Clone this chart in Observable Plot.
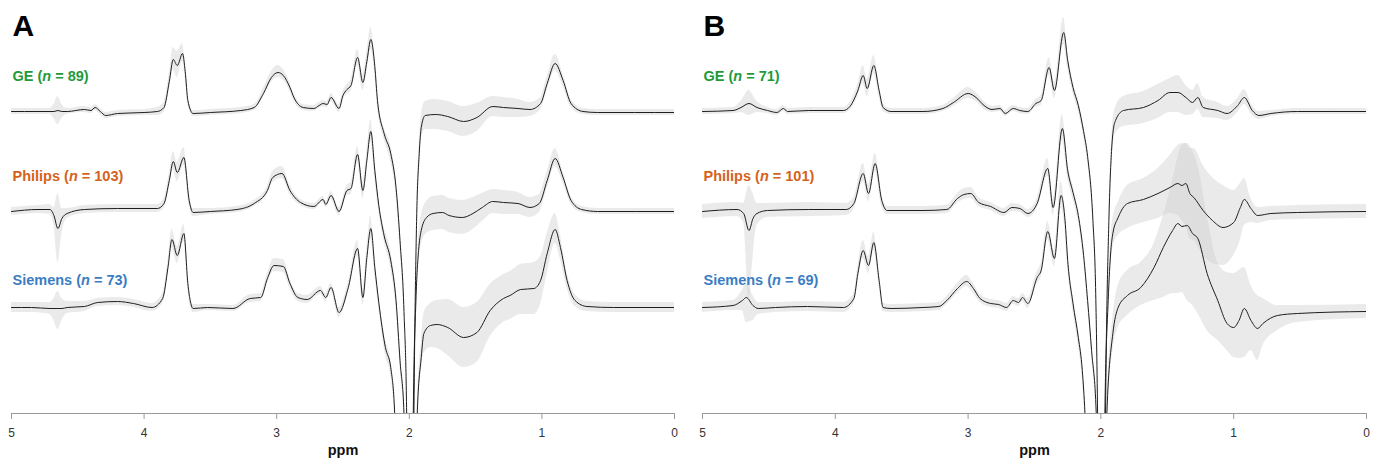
<!DOCTYPE html>
<html>
<head>
<meta charset="utf-8">
<script src="https://cdn.jsdelivr.net/npm/d3@7"></script>
<script src="https://cdn.jsdelivr.net/npm/@observablehq/plot@0.6"></script>
<style>
  html, body { margin: 0; padding: 0; background: #fff; }
  #wrap { display: flex; width: 1381px; height: 462px; font-family: "Liberation Sans", Arial, sans-serif; }
</style>
</head>
<body>
<div id="wrap"></div>
<script>
// ---- data (ppm, mean, band below, band above) -----------------------------
const PPM_TICKS = [5, 4, 3, 2, 1, 0];
const VENDORS = ["GE", "Philips", "Siemens"];
const N_A = [89, 103, 73];
const N_B = [71, 101, 69];
const COLORS = ["#1f9a3a", "#d4621c", "#3a7dc4"];
const PANELS = ["A", "B"];

const GE_A = [
[5.00,0,3,3],[4.80,0,3,3],[4.71,0,3,3],[4.68,0,7,7],[4.65,1,14,14],[4.62,0,7,7],[4.58,0,3,3],
[4.45,2,3,3],[4.40,1,3,3],[4.37,4,3,3],[4.33,0,3,3],[4.29,-4,3,3],[4.20,-2,3,3],[4.00,-1,3,3],
[3.90,0,4,4],[3.85,4,5,5],[3.81,30,8,8],[3.78,52,10,12],[3.75,46,12,14],[3.71,58,8,10],[3.69,40,6,6],
[3.67,11,4,4],[3.63,-2,3,3],[3.50,-1,3,3],[3.27,1,3,3],[3.17,4,3,3],[3.10,18,4,5],[3.04,34,5,6],
[2.99,39,5,7],[2.95,36,5,6],[2.90,24,4,5],[2.87,14,4,4],[2.80,4,3,3],[2.72,3,3,3],[2.68,6,3,3],
[2.65,8,3,3],[2.62,7,3,3],[2.59,14,4,4],[2.53,3,4,4],[2.50,16,4,4],[2.47,22,5,5],[2.44,26,6,6],
[2.39,54,8,8],[2.35,29,8,8],[2.32,50,10,10],[2.29,72,10,12],[2.26,45,8,8],[2.24,11,6,6],
[2.19,-22,6,6],[2.14,-42,8,8],[2.10,-76,8,8],[2.07,-129,8,8],[2.04,-200,6,6],[2.02,-302,5,5],
[2.00,-700,5,5],[1.985,-700,5,5],[1.965,-302,5,5],[1.945,-110,8,8],[1.925,-42,10,10],[1.91,-16,12,12],
[1.88,-4,14,14],[1.80,-3,15,15],[1.71,-5,15,15],[1.59,-10,15,15],[1.49,-6,14,14],[1.37,5,10,10],
[1.29,4,10,10],[1.18,3,9,9],[1.09,2,7,7],[1.01,8,6,6],[0.96,28,7,7],[0.90,48,7,9],[0.84,31,6,6],
[0.78,8,4,4],[0.69,0,3,3],[0.58,-1,3,3],[0.30,-1,3,3],[0.00,-1,3,3]
];
const PHILIPS_A = [
[5.00,-1,4,4],[4.80,1,4,4],[4.71,1,5,5],[4.68,-5,10,8],[4.65,-18,34,35],[4.62,-8,15,10],[4.58,-3,5,5],
[4.45,1,4,4],[4.20,2,4,4],[3.90,2,4,4],[3.85,7,5,5],[3.81,30,7,7],[3.78,49,8,10],[3.75,38,9,10],
[3.70,53,8,10],[3.66,10,5,5],[3.63,-2,4,4],[3.50,-1,3,3],[3.30,1,3,3],[3.17,7,3,3],[3.07,20,4,4],
[3.03,33,5,6],[2.96,37,5,7],[2.90,20,4,5],[2.82,8,3,3],[2.72,4,3,3],[2.65,11,3,3],[2.63,6,3,3],
[2.59,15,4,4],[2.53,-1,4,4],[2.47,20,5,5],[2.44,22,6,6],[2.39,56,8,8],[2.35,20,8,8],[2.32,50,10,10],
[2.29,79,10,12],[2.26,40,8,8],[2.23,5,6,6],[2.19,-25,6,8],[2.14,-50,8,10],[2.10,-90,8,8],
[2.07,-150,6,6],[2.04,-203,5,5],[2.00,-700,5,5],[1.99,-700,5,5],[1.97,-203,5,5],[1.95,-90,8,8],
[1.93,-40,12,12],[1.91,-20,15,15],[1.87,-7,16,16],[1.82,-3,17,17],[1.75,-2,17,17],[1.70,-5,17,17],
[1.60,-7,17,17],[1.52,-3,16,16],[1.45,3,14,14],[1.37,9,12,12],[1.29,8,12,12],[1.18,7,11,11],
[1.09,3,10,10],[1.02,7,9,9],[0.96,30,8,9],[0.90,52,8,10],[0.84,33,6,6],[0.78,10,4,4],[0.70,1,3,3],
[0.58,-1,3,3],[0.00,-1,3,3]
];
const SIEMENS_A = [
[5.00,0,5,5],[4.85,0,5,5],[4.71,-1,6,6],[4.68,-1,12,10],[4.65,-1,21,17],[4.62,-1,12,10],[4.58,0,6,6],
[4.45,1,5,5],[4.35,5,4,4],[4.20,6,4,4],[4.08,4,4,4],[3.94,0,4,4],[3.86,9,5,5],[3.82,40,7,7],
[3.79,68,8,10],[3.75,52,8,9],[3.70,74,8,9],[3.67,24,6,6],[3.63,-1,4,4],[3.52,0,3,3],[3.33,-1,3,3],
[3.20,9,4,4],[3.12,10,4,4],[3.07,29,5,5],[3.02,42,6,7],[2.95,41,6,7],[2.90,24,5,5],[2.84,10,4,4],
[2.77,8,4,4],[2.67,17,4,4],[2.63,10,4,4],[2.59,20,4,4],[2.53,-5,5,5],[2.46,20,5,5],[2.39,59,8,8],
[2.35,10,8,8],[2.32,50,10,10],[2.29,79,10,12],[2.26,40,8,8],[2.23,5,6,6],[2.18,-40,8,8],
[2.14,-60,8,8],[2.11,-106,6,6],[2.05,-500,5,5],[1.98,-500,5,5],[1.94,-106,8,8],[1.91,-50,15,15],
[1.89,-26,20,20],[1.84,-18,22,22],[1.79,-17,24,24],[1.71,-20,28,28],[1.59,-30,30,30],[1.49,-25,30,30],
[1.39,-3,26,26],[1.29,9,24,24],[1.24,12,24,24],[1.16,18,25,25],[1.06,19,26,26],[1.01,27,24,24],
[0.96,54,20,20],[0.90,78,14,16],[0.86,60,12,12],[0.81,27,8,8],[0.75,7,6,6],[0.66,1,5,5],
[0.46,0,5,5],[0.00,0,5,5]
];
const GE_B = [
[5.00,0,3,3],[4.77,1,3,3],[4.71,4,5,6],[4.65,8,12,13],[4.59,4,5,6],[4.51,1,3,3],[4.44,-1,3,3],
[4.39,3,3,3],[4.36,0,3,3],[4.20,1,3,3],[3.94,1,3,3],[3.89,5,4,4],[3.83,21,6,6],[3.79,36,8,10],
[3.76,23,8,9],[3.71,46,8,10],[3.67,21,6,6],[3.64,4,4,4],[3.58,0,3,3],[3.34,0,3,3],[3.19,3,3,3],
[3.11,9,4,4],[3.00,18,5,6],[2.94,14,4,5],[2.88,6,4,4],[2.82,2,3,3],[2.76,3,3,3],[2.72,-2,3,3],
[2.66,3,3,3],[2.61,1,3,3],[2.55,0,3,3],[2.49,8,4,4],[2.45,11,5,5],[2.39,44,8,10],[2.35,21,8,8],
[2.28,79,12,15],[2.25,51,8,8],[2.21,24,6,6],[2.17,6,6,6],[2.13,-20,6,6],[2.10,-45,6,6],
[2.06,-109,5,5],[2.04,-176,5,5],[2.025,-302,5,5],[2.00,-700,5,5],[1.985,-700,5,5],[1.965,-302,5,5],
[1.94,-110,8,8],[1.92,-40,10,10],[1.91,-22,12,12],[1.89,-9,13,13],[1.83,1,16,14],[1.68,4,16,16],
[1.57,11,18,16],[1.48,19,20,14],[1.42,19,20,17],[1.36,14,18,12],[1.31,9,12,12],[1.27,14,12,14],
[1.23,4,10,10],[1.12,1,8,8],[1.05,-2,7,7],[0.97,6,7,7],[0.92,14,7,8],[0.86,1,5,5],[0.81,-4,4,4],
[0.72,-2,3,3],[0.52,0,3,3],[0.00,0,3,3]
];
const PHILIPS_B = [
[5.00,-1,7,7],[4.74,1,7,7],[4.69,-3,9,10],[4.65,-20,70,45],[4.62,-8,40,25],[4.59,-3,12,10],
[4.51,0,7,7],[4.20,1,7,7],[3.92,1,6,6],[3.86,7,6,6],[3.79,37,8,10],[3.75,17,8,9],[3.70,47,8,10],
[3.65,10,6,6],[3.61,0,4,4],[3.34,0,4,4],[3.16,1,4,4],[3.08,12,5,5],[3.03,16,5,6],[2.98,17,5,6],
[2.92,8,4,5],[2.83,4,4,4],[2.73,-2,4,4],[2.67,3,4,4],[2.61,2,4,4],[2.55,-3,4,4],[2.48,7,5,5],
[2.40,42,8,10],[2.36,3,8,8],[2.29,82,12,14],[2.25,40,8,8],[2.21,18,7,7],[2.17,-5,6,6],
[2.13,-45,6,6],[2.10,-90,6,6],[2.07,-140,5,5],[2.035,-203,5,5],[2.00,-700,5,5],[1.99,-700,5,5],
[1.97,-203,8,8],[1.945,-90,12,12],[1.925,-40,14,14],[1.91,-23,15,15],[1.87,-7,18,15],[1.80,7,25,18],
[1.68,11,23,21],[1.57,17,25,25],[1.48,23,26,32],[1.42,27,32,38],[1.39,25,35,42],[1.36,27,42,40],
[1.33,17,45,45],[1.30,13,43,49],[1.23,0,45,45],[1.16,-10,43,43],[1.08,-17,38,42],[1.00,-12,33,32],
[0.95,3,33,24],[0.92,11,26,21],[0.87,2,14,10],[0.82,-5,8,8],[0.72,-3,7,7],[0.52,-2,7,7],[0.00,-1,7,7]
];
const SIEMENS_B = [
[5.00,0,5,5],[4.77,2,5,5],[4.70,7,10,10],[4.67,10,25,14],[4.62,2,15,10],[4.58,-1,6,6],[4.45,0,5,5],
[4.21,1,5,5],[3.94,0,5,5],[3.86,9,5,5],[3.83,34,7,7],[3.79,57,8,10],[3.75,42,8,9],[3.71,65,8,10],
[3.67,27,6,6],[3.64,0,4,4],[3.58,-1,4,4],[3.34,0,4,4],[3.22,1,4,4],[3.16,7,4,4],[3.08,19,5,5],
[3.01,26,5,6],[2.96,19,5,5],[2.91,9,4,4],[2.83,4,4,4],[2.77,3,4,4],[2.71,0,4,4],[2.66,7,4,4],
[2.62,5,4,4],[2.59,10,4,4],[2.55,4,5,5],[2.48,30,6,6],[2.45,37,7,7],[2.40,76,8,10],[2.35,49,8,8],
[2.30,112,12,14],[2.27,87,10,10],[2.25,47,8,8],[2.21,4,8,8],[2.17,-30,8,8],[2.14,-63,8,8],
[2.12,-106,8,8],[2.05,-500,5,5],[1.99,-500,5,5],[1.955,-106,10,10],[1.91,-26,18,16],[1.87,0,20,22],
[1.80,12,20,25],[1.70,20,18,25],[1.60,40,33,24],[1.53,60,50,32],[1.46,77,63,50],[1.42,84,70,66],
[1.39,81,66,81],[1.35,82,75,82],[1.31,74,72,83],[1.27,69,75,73],[1.20,34,57,58],[1.12,7,40,38],
[1.05,-16,27,51],[1.00,-20,30,54],[0.96,-13,38,50],[0.92,-1,49,41],[0.87,-13,30,35],[0.82,-21,32,33],
[0.78,-16,22,25],[0.67,-8,15,10],[0.52,-6,9,8],[0.00,-4,7,7]
];

// ---- layout constants -------------------------------------------------------
const OFFSETS = [302, 203, 106];   // vertical stacking of spectra
const LABEL_LIFT = [35, 34, 27];
const SERIES = { A: [GE_A, PHILIPS_A, SIEMENS_A], B: [GE_B, PHILIPS_B, SIEMENS_B] };
const COUNTS = { A: N_A, B: N_B };
const LAYOUT = {
  A: { width: 690, marginLeft: 11, marginRight: 16 },
  B: { width: 691, marginLeft: 12, marginRight: 15 }
};
const FONT = '"Liberation Sans", Arial, Helvetica, sans-serif';

function makePanel(panel) {
  const marks = [];
  const series = SERIES[panel].map((rows, i) => rows.map(([ppm, m, dn, up]) => ({
    ppm, y: OFFSETS[i] + m, lo: OFFSETS[i] + m - dn, hi: OFFSETS[i] + m + up
  })));
  series.forEach(s => marks.push(Plot.areaY(s, {
    x: "ppm", y1: "lo", y2: "hi", fill: "#d0d0d0", fillOpacity: 0.45,
    curve: "monotone-x", clip: true
  })));
  series.forEach(s => marks.push(Plot.line(s, {
    x: "ppm", y: "y", stroke: "#1e1e1e", strokeWidth: 1, curve: "monotone-x", clip: true
  })));
  const labels = VENDORS.map((v, i) => ({
    text: `${v} (n = ${COUNTS[panel][i]})`, y: OFFSETS[i] + LABEL_LIFT[i], color: COLORS[i]
  }));
  marks.push(Plot.text(labels, {
    x: () => 5, y: "y", text: "text", fill: "color", textAnchor: "start", dx: 1,
    fontSize: 14.5, fontWeight: "bold", lineAnchor: "middle"
  }));
  marks.push(Plot.text([panel], {
    frameAnchor: "top-left", lineAnchor: "bottom", dy: 35, dx: 1,
    fontSize: 30, fontWeight: "bold", fill: "#000"
  }));
  marks.push(Plot.ruleY([0], { stroke: "#9a9a9a", strokeWidth: 1.2 }));
  marks.push(Plot.axisX({
    ticks: PPM_TICKS, tickFormat: d => String(d), tickSize: 6, tickPadding: 9,
    stroke: "#9a9a9a", fill: "#333", fontSize: 12, label: null
  }));
  marks.push(Plot.text(["ppm"], {
    frameAnchor: "bottom", lineAnchor: "middle", dy: 37,
    fontSize: 14.5, fontWeight: "bold", fill: "#111"
  }));
  const L = LAYOUT[panel];
  return Plot.plot({
    width: L.width, height: 462,
    marginLeft: L.marginLeft, marginRight: L.marginRight, marginTop: 0, marginBottom: 49,
    style: { fontFamily: FONT, background: "#fff" },
    x: { domain: [5, 0], axis: null },
    y: { domain: [0, 413], axis: null },
    marks
  });
}

const wrap = document.getElementById("wrap");
PANELS.forEach(p => {
  const svg = makePanel(p);
  svg.querySelectorAll("text").forEach(t => {
    const m = /^(\w+) \(n = (\d+)\)$/.exec(t.textContent);
    if (!m) return;
    t.textContent = "";
    const ns = "http://www.w3.org/2000/svg";
    const a = document.createElementNS(ns, "tspan"); a.textContent = `${m[1]} (`;
    const b = document.createElementNS(ns, "tspan"); b.textContent = "n"; b.setAttribute("font-style", "italic");
    const c = document.createElementNS(ns, "tspan"); c.textContent = ` = ${m[2]})`;
    t.append(a, b, c);
  });
  wrap.appendChild(svg);
});
</script>
</body>
</html>
